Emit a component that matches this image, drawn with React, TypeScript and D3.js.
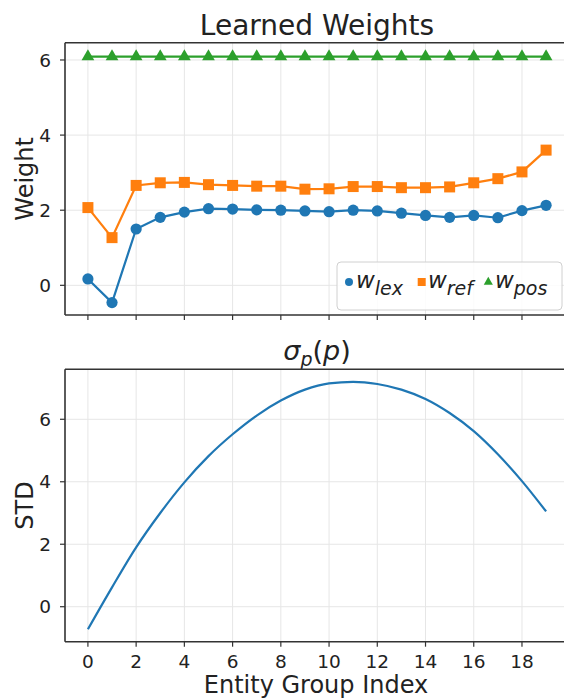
import React from 'react';
import * as d3 from 'd3';

// entity groups along the x axis
const groupIndex = [0, 1, 2, 3, 4, 5, 6, 7, 8, 9, 10, 11, 12, 13, 14, 15, 16, 17, 18, 19];

// learned weights per group
const wLex = [0.17, -0.46, 1.5, 1.81, 1.95, 2.04, 2.03, 2.01, 2.0, 1.98, 1.96, 2.0, 1.98, 1.92, 1.86, 1.81, 1.86, 1.8, 1.99, 2.13];
const wRef = [2.07, 1.27, 2.66, 2.73, 2.74, 2.68, 2.66, 2.64, 2.64, 2.56, 2.57, 2.63, 2.63, 2.6, 2.6, 2.62, 2.73, 2.84, 3.02, 3.6];
const wPos = [6.09, 6.09, 6.09, 6.09, 6.09, 6.09, 6.09, 6.09, 6.09, 6.09, 6.09, 6.09, 6.09, 6.09, 6.09, 6.09, 6.09, 6.09, 6.09, 6.09];

// sigma_p(p) per group
const stdValues = [-0.72, 0.62, 1.9, 3.0, 3.98, 4.82, 5.52, 6.12, 6.6, 6.95, 7.15, 7.2, 7.13, 6.95, 6.65, 6.2, 5.62, 4.88, 4.02, 3.05];

const xTicks = [0, 2, 4, 6, 8, 10, 12, 14, 16, 18];
const weightTicks = [0, 2, 4, 6];
const stdTicks = [0, 2, 4, 6];

const W = 564;
const H = 698;
const FONT = '"DejaVu Sans", sans-serif';
const BLUE = '#1f77b4';
const ORANGE = '#ff7f0e';
const GREEN = '#2ca02c';

const left = 65;
const right = 569;
const top1 = 42.7;
const bottom1 = 315;
const top2 = 369.3;
const bottom2 = 641.7;

const x = d3.scaleLinear().domain([-0.95, 19.95]).range([left, right]);
const yW = d3.scaleLinear().domain([-0.79, 6.46]).range([bottom1, top1]);
const yS = d3.scaleLinear().domain([-1.12, 7.6]).range([bottom2, top2]);

function Frame({ y, ticks, top, bottom, showXLabels }) {
  return (
    <g>
      {xTicks.map((t) => (
        <line key={'gx' + t} x1={x(t)} x2={x(t)} y1={top} y2={bottom} stroke="#e6e6e6" strokeWidth={1} />
      ))}
      {ticks.map((t) => (
        <line key={'gy' + t} x1={left} x2={right} y1={y(t)} y2={y(t)} stroke="#e6e6e6" strokeWidth={1} />
      ))}
      {xTicks.map((t) => (
        <g key={'tx' + t}>
          <line x1={x(t)} x2={x(t)} y1={bottom} y2={bottom + 5} stroke="#333" strokeWidth={1.2} />
          {showXLabels && (
            <text x={x(t)} y={668} textAnchor="middle" fontSize={18.5} fill="#222">{t}</text>
          )}
        </g>
      ))}
      {ticks.map((t) => (
        <g key={'ty' + t}>
          <line x1={left - 5} x2={left} y1={y(t)} y2={y(t)} stroke="#333" strokeWidth={1.2} />
          <text x={51} y={y(t)} dy="0.36em" textAnchor="end" fontSize={18.5} fill="#222">{t}</text>
        </g>
      ))}
    </g>
  );
}

function Spines({ top, bottom }) {
  return (
    <g fill="none" stroke="#333" strokeWidth={1.6}>
      <line x1={left} x2={right} y1={top} y2={top} />
      <line x1={left} x2={right} y1={bottom} y2={bottom} />
      <line x1={left} x2={left} y1={top} y2={bottom} />
      <line x1={right} x2={right} y1={top} y2={bottom} />
    </g>
  );
}

export default function App() {
  const lineW = d3.line<number>().x((_, i) => x(groupIndex[i])).y((d) => yW(d));
  const lineS = d3.line<number>().x((_, i) => x(groupIndex[i])).y((d) => yS(d)).curve(d3.curveMonotoneX);
  const tri = d3.symbol().type(d3.symbolTriangle).size(70)();
  const triSmall = d3.symbol().type(d3.symbolTriangle).size(36)();

  return (
    <div style={{ position: 'absolute', left: 0, top: 0 }}>
      <svg width={W} height={H} style={{ display: 'block', fontFamily: FONT }}>
        <rect width={W} height={H} fill="#fff" />

        {/* top panel */}
        <text x={(left + right) / 2} y={35} textAnchor="middle" fontSize={28} fill="#222">Learned Weights</text>
        <Frame y={yW} ticks={weightTicks} top={top1} bottom={bottom1} showXLabels={false} />
        <text transform={`translate(33,${(top1 + bottom1) / 2}) rotate(-90)`} textAnchor="middle" fontSize={24} fill="#222">Weight</text>

        <path d={lineW(wLex) || ''} fill="none" stroke={BLUE} strokeWidth={2.2} />
        {wLex.map((v, i) => (
          <circle key={'bl' + i} cx={x(groupIndex[i])} cy={yW(v)} r={5.6} fill={BLUE} />
        ))}
        <path d={lineW(wRef) || ''} fill="none" stroke={ORANGE} strokeWidth={2.2} />
        {wRef.map((v, i) => (
          <rect key={'or' + i} x={x(groupIndex[i]) - 5.5} y={yW(v) - 5.5} width={11} height={11} fill={ORANGE} />
        ))}
        <path d={lineW(wPos) || ''} fill="none" stroke={GREEN} strokeWidth={2.2} />
        {wPos.map((v, i) => (
          <path key={'gr' + i} d={tri || ''} transform={`translate(${x(groupIndex[i])},${yW(v)})`} fill={GREEN} />
        ))}

        {/* legend */}
        <rect x={337} y={262} width={225} height={48} rx={4} fill="#fff" fillOpacity={0.85} stroke="#d0d0d0" strokeWidth={1} />
        <circle cx={349} cy={282} r={4} fill={BLUE} />
        <text x={356} y={288.3} fontSize={23} fill="#222" fontStyle="italic">
          w<tspan fontSize={19} dy={6.5}>lex</tspan>
        </text>
        <rect x={417.7} y={278} width={8} height={8} fill={ORANGE} />
        <text x={428} y={288.3} fontSize={23} fill="#222" fontStyle="italic">
          w<tspan fontSize={19} dy={6.5}>ref</tspan>
        </text>
        <path d={triSmall || ''} transform="translate(488.3,282)" fill={GREEN} />
        <text x={495} y={288.3} fontSize={23} fill="#222" fontStyle="italic">
          w<tspan fontSize={19} dy={6.5}>pos</tspan>
        </text>

        <Spines top={top1} bottom={bottom1} />

        {/* bottom panel */}
        <text x={(left + right) / 2} y={360} textAnchor="middle" fontSize={27} fill="#222">
          <tspan fontStyle="italic">σ</tspan>
          <tspan fontStyle="italic" fontSize={19} dy={6}>p</tspan>
          <tspan dy={-6}>(</tspan>
          <tspan fontStyle="italic">p</tspan>
          <tspan>)</tspan>
        </text>
        <Frame y={yS} ticks={stdTicks} top={top2} bottom={bottom2} showXLabels={true} />
        <text transform={`translate(33,${(top2 + bottom2) / 2}) rotate(-90)`} textAnchor="middle" fontSize={24} fill="#222">STD</text>
        <path d={lineS(stdValues) || ''} fill="none" stroke={BLUE} strokeWidth={2.2} />
        <Spines top={top2} bottom={bottom2} />
        <text x={316} y={693} textAnchor="middle" fontSize={24} fill="#222">Entity Group Index</text>
      </svg>
    </div>
  );
}
